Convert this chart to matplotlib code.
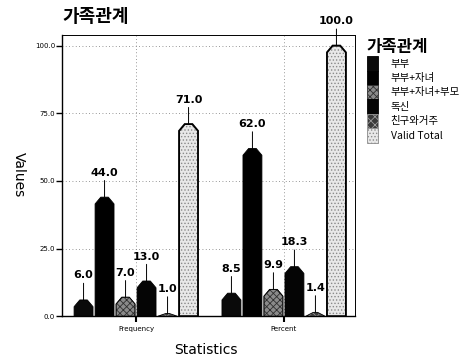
import matplotlib
matplotlib.use("Agg")
import matplotlib.pyplot as plt
from matplotlib.patches import Polygon, Patch
import numpy as np

plt.rcParams['font.family'] = ['Noto Sans CJK KR', 'DejaVu Sans']
plt.rcParams['hatch.linewidth'] = 0.6

# Data
statistics = ["Frequency", "Percent"]
series_names = ["부부", "부부+자녀", "부부+자녀+부모", "독신", "친구와거주", "Valid Total"]
frequency = [6.0, 44.0, 7.0, 13.0, 1.0, 71.0]
percent = [8.5, 62.0, 9.9, 18.3, 1.4, 100.0]
y_ticks = [0, 25, 50, 75, 100]

# Fill styles per series
face = ["#0a0a0a", "#000000", "#8a8a8a", "#050505", "#3a3a3a", "#e8e8e8"]
hatch = [None, None, "xxxxx", None, "xxxx", "....."]
hatch_col = ["#0a0a0a", "#000000", "#303030", "#050505", "#9a9a9a", "#8a8a8a"]

fig = plt.figure(figsize=(4.67, 3.63), dpi=100)
ax = fig.add_axes([0.133, 0.129, 0.627, 0.775])

step = 0.142
width = 0.128
chamfer = 2.5
values = np.array([frequency, percent])

for gi, g in enumerate(statistics):
    for si in range(len(series_names)):
        v = values[gi, si]
        xc = gi + (si - 2.5) * step
        l, r = xc - width / 2, xc + width / 2
        top_half = width * 0.2
        c = min(chamfer, v)
        verts = [(l, 0), (r, 0), (r, v - c), (xc + top_half * (c / chamfer), v),
                 (xc - top_half * (c / chamfer), v), (l, v - c)]
        lw = 1.3 if si == 5 else 0.6
        poly = Polygon(verts, closed=True, facecolor=face[si], edgecolor="black",
                       linewidth=lw, zorder=3)
        if hatch[si]:
            poly.set_hatch(hatch[si])
            poly.set_edgecolor(hatch_col[si])
            ax.add_patch(poly)
            ax.add_patch(Polygon(verts, closed=True, facecolor="none",
                                 edgecolor="black", linewidth=lw, zorder=4))
        else:
            ax.add_patch(poly)
        ax.annotate(f"{v:.1f}", xy=(xc, v), xytext=(0, 14), textcoords="offset points",
                    ha="center", va="bottom", fontsize=8, fontweight="bold",
                    family="DejaVu Sans",
                    arrowprops=dict(arrowstyle="-", lw=0.7, color="black",
                                    shrinkA=0, shrinkB=0), zorder=5)

ax.set_xlim(-0.5, 1.48)
ax.set_ylim(0, 104)
ax.set_yticks(y_ticks)
ax.set_yticklabels([f"{t:.1f}" for t in y_ticks], fontsize=5, family="DejaVu Sans")
ax.set_xticks([0, 1])
ax.set_xticklabels(statistics, fontsize=5, family="DejaVu Sans")
ax.tick_params(axis="y", direction="out", length=4, width=1, pad=1)
ax.tick_params(axis="x", direction="out", length=4, width=1.5, pad=3)

ax.grid(True, linestyle=(0, (1, 3)), color="#777777", linewidth=0.6, zorder=0)
for s in ["top", "right"]:
    ax.spines[s].set_linestyle((0, (1, 1)))
    ax.spines[s].set_linewidth(0.7)
for s in ["left", "bottom"]:
    ax.spines[s].set_linewidth(1.0)

fig.text(0.133, 0.955, "가족관계", fontsize=13, fontweight="bold", ha="left", va="center")
fig.text(0.04, 0.52, "Values", fontsize=10, rotation=270, ha="center", va="center",
         family="DejaVu Sans")
fig.text(0.44, 0.035, "Statistics", fontsize=10, ha="center", va="center",
         family="DejaVu Sans")

handles = [Patch(facecolor=face[i], edgecolor=hatch_col[i] if hatch[i] else "black",
                 hatch=hatch[i], linewidth=0.6, label=series_names[i])
           for i in range(len(series_names))]
leg = fig.legend(handles=handles, loc="upper left", bbox_to_anchor=(0.785, 0.895),
                 frameon=False, title="가족관계", fontsize=7.5,
                 title_fontproperties={"size": 12, "weight": "bold", "family": "Noto Sans CJK KR"},
                 handlelength=1.1, handleheight=1.75, labelspacing=0.0,
                 handletextpad=1.2, borderaxespad=0, borderpad=0)
leg._legend_box.align = "left"

fig.savefig("out.png", dpi=100)
